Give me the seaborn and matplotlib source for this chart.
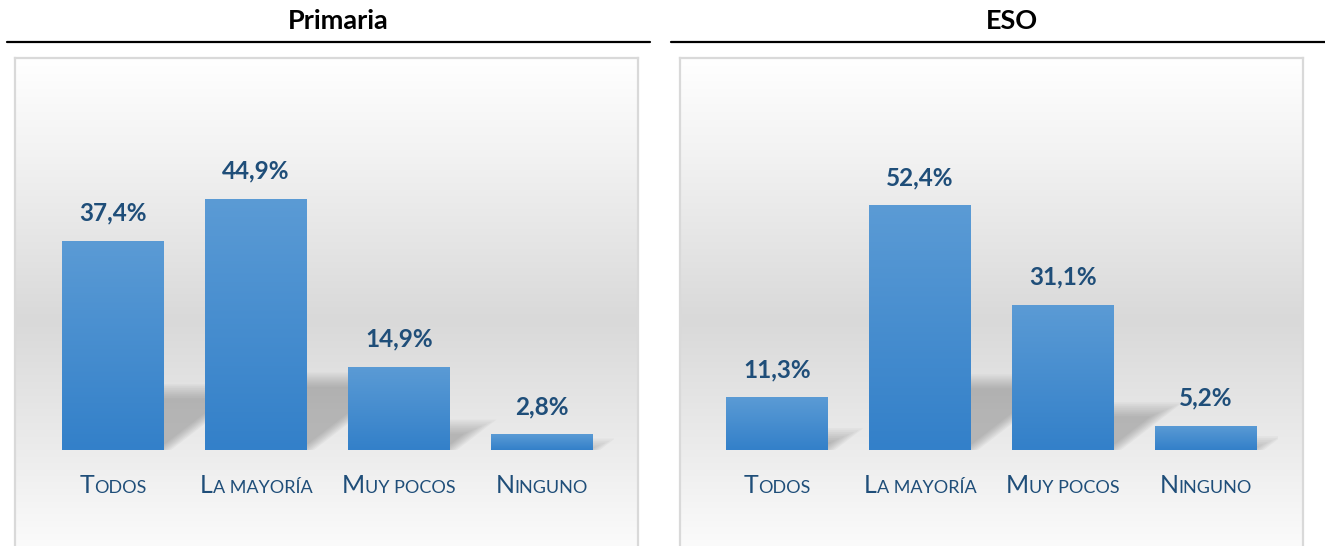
import numpy as np
import pandas as pd
import matplotlib
matplotlib.use("Agg")
import matplotlib.pyplot as plt
import seaborn as sns
from matplotlib.patches import Polygon
from matplotlib.lines import Line2D
from matplotlib.offsetbox import TextArea, HPacker, AnnotationBbox

# ---- data -------------------------------------------------------------
categories = ["Todos", "La mayoría", "Muy pocos", "Ninguno"]
primaria = [37.4, 44.9, 14.9, 2.8]
eso = [11.3, 52.4, 31.1, 5.2]
panel_titles = ["Primaria", "ESO"]
panel_ymax = [50, 60]

# ---- style ------------------------------------------------------------
sns.set_theme(style="white")
plt.rcParams["font.family"] = ["Lato", "DejaVu Sans"]

W, H = 1325, 546
fig = plt.figure(figsize=(W / 100, H / 100), dpi=100)
fig.patch.set_facecolor("white")


def fx(px):
    return px / W


def fy(py):
    return 1 - py / H


LABEL_BLUE = "#1F4E79"
BAR_TOP = np.array([0x5B, 0x9B, 0xD5]) / 255
BAR_BOT = np.array([0x33, 0x80, 0xC9]) / 255
BG_STOPS_Y = [58, 150, 320, 450, 546]
BG_STOPS_V = [255, 243, 217, 236, 251]


def draw_background(x0, x1, y0, y1):
    ax = fig.add_axes([fx(x0), fy(y1), (x1 - x0) / W, (y1 - y0) / H])
    ys = np.arange(y0, y1)
    vals = np.interp(ys, BG_STOPS_Y, BG_STOPS_V) / 255
    rgb = np.dstack([np.repeat(vals[:, None], 2, axis=1)] * 3)
    ax.imshow(rgb, aspect="auto", extent=(0, 1, 0, 1), interpolation="bilinear")
    ax.set_xticks([])
    ax.set_yticks([])
    for side, sp in ax.spines.items():
        sp.set_color("#D9D9D9")
        sp.set_linewidth(1.6)
        sp.set_visible(side != "bottom")
    return ax


def draw_shadow(ax, x0, x1, v, px_x, px_y, n=8, blur=8):
    h = 0.28 * v
    dx = 1.3 * h * px_y / px_x
    for k in range(n):
        d = (k - (n - 1) / 2) * (2 * blur / n)
        top = h - d / px_y
        if top <= 0:
            continue
        shift = d / px_x
        frac = top / h
        poly = Polygon(
            [(x0, 0), (x1 - shift, 0), (x1 - shift + dx * frac, top), (x0 + dx * frac, top)],
            closed=True, facecolor="#6A6A6A", edgecolor="none", alpha=0.06, zorder=1,
        )
        ax.add_patch(poly)


def smallcaps_label(ax, x, text):
    parts = [
        TextArea(text[0].upper(), textprops=dict(size=18, color=LABEL_BLUE, family="Lato")),
        TextArea(text[1:].upper(), textprops=dict(size=13, color=LABEL_BLUE, family="Lato")),
    ]
    pack = HPacker(children=parts, align="baseline", pad=0, sep=0)
    ab = AnnotationBbox(pack, (x, -0.128), xycoords=("data", "axes fraction"),
                        box_alignment=(0.5, 0.5), frameon=False, pad=0,
                        annotation_clip=False)
    ax.add_artist(ab)


def draw_panel(values, title, ymax, box, plot, title_x, line):
    draw_background(box[0], box[1], 58, H)

    px0, px1, py0, py1 = plot
    ax = fig.add_axes([fx(px0), fy(py1), (px1 - px0) / W, (py1 - py0) / H])
    ax.patch.set_alpha(0)
    px_x = (px1 - px0) / len(categories)
    px_y = (py1 - py0) / ymax

    df = pd.DataFrame({"categoria": categories, "porcentaje": values})
    sns.barplot(data=df, x="categoria", y="porcentaje", ax=ax, color="#5B9BD5",
                saturation=1, width=0.713, errorbar=None, linewidth=0, zorder=3)

    grad = np.linspace(0, 1, 256)[:, None]
    rgb = (BAR_TOP * (1 - grad) + BAR_BOT * grad).reshape(256, 1, 3)
    for p, v in zip(list(ax.patches), values):
        x, w, hgt = p.get_x(), p.get_width(), p.get_height()
        draw_shadow(ax, x, x + w, hgt, px_x, px_y)
        im = ax.imshow(rgb, extent=(x, x + w, 0, hgt), aspect="auto",
                       interpolation="bilinear", zorder=4)
        im.set_clip_path(p)
        label = f"{v:.1f}".replace(".", ",") + "%"
        ax.annotate(label, (x + w / 2, hgt), xytext=(0, 20), textcoords="offset points",
                    ha="center", va="center", fontsize=17.5, fontweight="bold",
                    color=LABEL_BLUE, zorder=5)

    ax.set_xlim(-0.5, len(categories) - 0.5)
    ax.set_ylim(0, ymax)
    ax.set_axis_off()

    for i, c in enumerate(categories):
        smallcaps_label(ax, i, c)

    fig.text(fx(title_x), fy(21), title, ha="center", va="center",
             fontsize=19.5, fontweight="bold", color="black")
    fig.add_artist(Line2D([fx(line[0]), fx(line[1])], [fy(42), fy(42)],
                          color="black", lw=1.6))


draw_panel(primaria, panel_titles[0], panel_ymax[0],
           box=(15, 638), plot=(41.5, 613.5, 170, 450), title_x=338, line=(7, 650))
draw_panel(eso, panel_titles[1], panel_ymax[1],
           box=(680, 1303), plot=(705.5, 1277.5, 170, 450), title_x=1012, line=(671, 1325))

fig.savefig("out.png", dpi=100, facecolor="white")
